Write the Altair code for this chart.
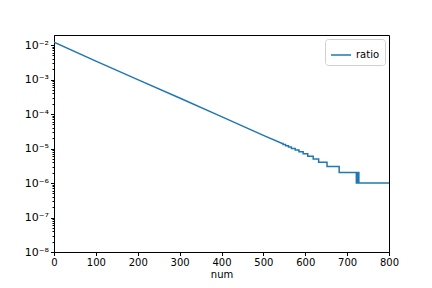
import altair as alt
import pandas as pd

# straight (log-linear) part
num_main = [0, 100, 200, 300, 400, 500, 545]
ratio_main = [1.2e-2, 3.4e-3, 9.9e-4, 2.9e-4, 8.4e-5, 2.4e-5, 1.4e-5]

# staircase part: num where value jumps, and value after jump
step_num = [547, 553, 560, 567, 576, 585, 595, 606, 619, 632, 652, 681, 722, 725, 728]
step_val = [13e-6, 12e-6, 11e-6, 10e-6, 9e-6, 8e-6, 7e-6, 6e-6, 5e-6, 4e-6, 3e-6, 2e-6, 1e-6, 2e-6, 1e-6]
end_num = 800
end_val = 1e-6

xs = list(num_main)
ys = list(ratio_main)
prev = ratio_main[-1]
for n, v in zip(step_num, step_val):
    xs += [n, n]
    ys += [prev, v]
    prev = v
xs.append(end_num)
ys.append(end_val)

df = pd.DataFrame({"num": xs, "ratio": ys, "idx": list(range(len(xs))), "series": ["ratio"] * len(xs)})

major = [1e-8, 1e-7, 1e-6, 1e-5, 1e-4, 1e-3, 1e-2]
minor = [m * 10.0 ** e for e in range(-8, -1) for m in range(2, 10) if m * 10.0 ** e <= 0.0195]

ydom = [1e-8, 0.0195]
label_expr = "'10⁻' + ['⁰','¹','²','³','⁴','⁵','⁶','⁷','⁸','⁹'][-round(log(datum.value)/LN10)]"

line = alt.Chart(df).mark_line(strokeWidth=1.5, clip=True).encode(
    x=alt.X("num:Q", scale=alt.Scale(domain=[0, 800], nice=False, zero=False),
            axis=alt.Axis(values=list(range(0, 801, 100)), title="num", grid=False,
                          tickSize=3.5, labelPadding=2, titlePadding=2, titleFontWeight="normal",
                          labelFlush=False, labelOverlap=False,
                          domainColor="black", tickColor="black")),
    y=alt.Y("ratio:Q", scale=alt.Scale(type="log", domain=ydom, nice=False),
            axis=alt.Axis(values=major, title=None, grid=False, tickSize=3.5, labelPadding=2,
                          labelFlush=False, labelOverlap=False, labelFontSize=11,
                          orient="left", domainColor="black", tickColor="black",
                          labelExpr=label_expr)),
    color=alt.Color("series:N", scale=alt.Scale(range=["#1f77b4"]),
                    legend=alt.Legend(title=None, orient="top-right", offset=4,
                                      symbolType="stroke", symbolSize=400, symbolStrokeWidth=1.5,
                                      strokeColor="#d0d0d0", cornerRadius=3, padding=5,
                                      labelFontSize=10, fillColor="white")),
    order=alt.Order("idx:Q"),
)

minor_ax = alt.Chart(df).mark_point(opacity=0).encode(
    y=alt.Y("ratio:Q", scale=alt.Scale(type="log", domain=ydom, nice=False),
            axis=alt.Axis(values=minor, labels=False, title=None, grid=False, tickSize=2,
                          orient="left", domain=False, tickColor="black")),
)

chart = alt.layer(minor_ax, line).resolve_scale(y="independent").resolve_axis(y="independent").properties(
    width=335, height=217,
    autosize=alt.AutoSizeParams(type="none"),
    padding={"left": 54, "top": 35, "right": 43, "bottom": 36},
).configure_view(stroke="black", strokeWidth=1).configure_axis(
    labelFont="DejaVu Sans", titleFont="DejaVu Sans", labelFontSize=10, titleFontSize=10,
    labelColor="black", titleColor="black",
).configure_legend(labelFont="DejaVu Sans", labelColor="black")

chart.save("out.html", embed_options={"renderer": "svg", "actions": False})
